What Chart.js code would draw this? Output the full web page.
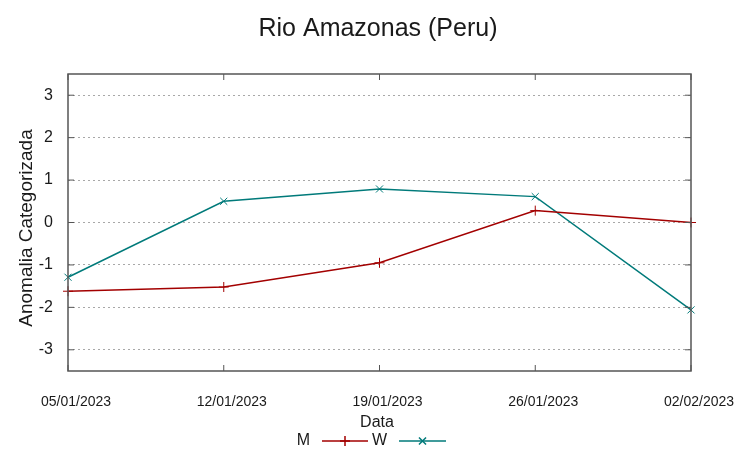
<!DOCTYPE html>
<html>
<head>
<meta charset="utf-8">
<script src="https://cdn.jsdelivr.net/npm/chart.js@4.4.1/dist/chart.umd.min.js"></script>
<style>
  html, body { margin: 0; padding: 0; background: #fff; }
  #wrap { width: 753px; height: 459px; }
</style>
</head>
<body>
<div id="wrap"><canvas id="c" width="753" height="459"></canvas></div>
<script>
// values
const dates = ['05/01/2023', '12/01/2023', '19/01/2023', '26/01/2023', '02/02/2023'];
const mValues = [-1.62, -1.52, -0.95, 0.28, 0.0];
const wValues = [-1.29, 0.50, 0.79, 0.61, -2.06];
const yTicks = [-3, -2, -1, 0, 1, 2, 3];

const red = '#a30000';
const teal = '#007a7a';
const frameColor = '#555555';
const font = "'Liberation Sans', Arial, sans-serif";

// frame, inner tick marks, titles and the gnuplot-like key
const decorations = {
    id: 'decorations',
    afterDatasetsDraw(chart) {
        const { ctx, chartArea: a, scales } = chart;
        ctx.save();
        ctx.strokeStyle = frameColor;
        ctx.lineWidth = 1.5;
        ctx.strokeRect(a.left, a.top, a.right - a.left, a.bottom - a.top);

        ctx.lineWidth = 1;
        ctx.beginPath();
        scales.y.ticks.forEach((t, i) => {
            const y = scales.y.getPixelForTick(i);
            ctx.moveTo(a.left, y); ctx.lineTo(a.left + 6, y);
            ctx.moveTo(a.right, y); ctx.lineTo(a.right - 6, y);
        });
        scales.x.ticks.forEach((t, i) => {
            const x = scales.x.getPixelForTick(i);
            ctx.moveTo(x, a.top); ctx.lineTo(x, a.top + 6);
            ctx.moveTo(x, a.bottom); ctx.lineTo(x, a.bottom - 6);
        });
        ctx.stroke();
        ctx.restore();
    },
    afterDraw(chart) {
        const { ctx } = chart;
        ctx.save();
        ctx.fillStyle = '#1a1a1a';
        ctx.textAlign = 'center';
        ctx.textBaseline = 'middle';

        ctx.font = `25px ${font}`;
        ctx.fillText('Rio Amazonas (Peru)', 378, 29);

        ctx.font = `16px ${font}`;
        ctx.fillText('Data', 377, 423);

        ctx.save();
        ctx.translate(27, 228);
        ctx.rotate(-Math.PI / 2);
        ctx.font = `19px ${font}`;
        ctx.fillText('Anomalia Categorizada', 0, 0);
        ctx.restore();

        // key
        const keyY = 441;
        const entries = [
            { label: 'M', textRight: 310, x0: 322, x1: 368, ds: chart.data.datasets[0] },
            { label: 'W', textRight: 387, x0: 399, x1: 446, ds: chart.data.datasets[1] },
        ];
        ctx.font = `16px ${font}`;
        ctx.textAlign = 'right';
        entries.forEach(e => {
            ctx.fillStyle = '#1a1a1a';
            ctx.fillText(e.label, e.textRight, keyY);
            ctx.strokeStyle = e.ds.borderColor;
            ctx.lineWidth = 1.5;
            ctx.beginPath();
            ctx.moveTo(e.x0, keyY); ctx.lineTo(e.x1, keyY);
            ctx.stroke();
            Chart.helpers.drawPoint(ctx, {
                pointStyle: e.ds.pointStyle,
                radius: e.ds.pointRadius,
                borderWidth: 1,
            }, (e.x0 + e.x1) / 2, keyY);
        });
        ctx.restore();
    }
};

new Chart(document.getElementById('c'), {
    type: 'line',
    data: {
        labels: dates,
        datasets: [
            {
                label: 'M',
                data: mValues,
                borderColor: red,
                backgroundColor: red,
                borderWidth: 1.5,
                pointStyle: 'cross',
                pointRadius: 5,
                pointBorderWidth: 1,
                tension: 0,
                clip: false,
            },
            {
                label: 'W',
                data: wValues,
                borderColor: teal,
                backgroundColor: teal,
                borderWidth: 1.5,
                pointStyle: 'crossRot',
                pointRadius: 5,
                pointBorderWidth: 1,
                tension: 0,
                clip: false,
            },
        ],
    },
    options: {
        responsive: false,
        animation: false,
        devicePixelRatio: 1,
        layout: { padding: { top: 74, right: 62, left: 0, bottom: 0 } },
        plugins: {
            legend: { display: false },
            title: { display: false },
            tooltip: { enabled: false },
        },
        scales: {
            x: {
                type: 'category',
                offset: false,
                grid: { display: false, drawTicks: false },
                border: { display: false },
                ticks: {
                    color: '#1a1a1a',
                    font: { family: font, size: 14 },
                    padding: 23,
                    labelOffset: 8,
                    maxRotation: 0,
                    autoSkip: false,
                },
                afterFit(scale) { scale.height = 88; },
            },
            y: {
                type: 'linear',
                min: -3.5,
                max: 3.5,
                afterBuildTicks(scale) {
                    scale.ticks = yTicks.map(v => ({ value: v }));
                },
                grid: {
                    color: '#a8a8a8',
                    lineWidth: 1,
                    drawTicks: false,
                },
                border: { display: false, dash: [2, 3] },
                ticks: {
                    color: '#1a1a1a',
                    font: { family: font, size: 16 },
                    padding: 15,
                },
                afterFit(scale) { scale.width = 68; },
            },
        },
    },
    plugins: [decorations],
});
</script>
</body>
</html>
